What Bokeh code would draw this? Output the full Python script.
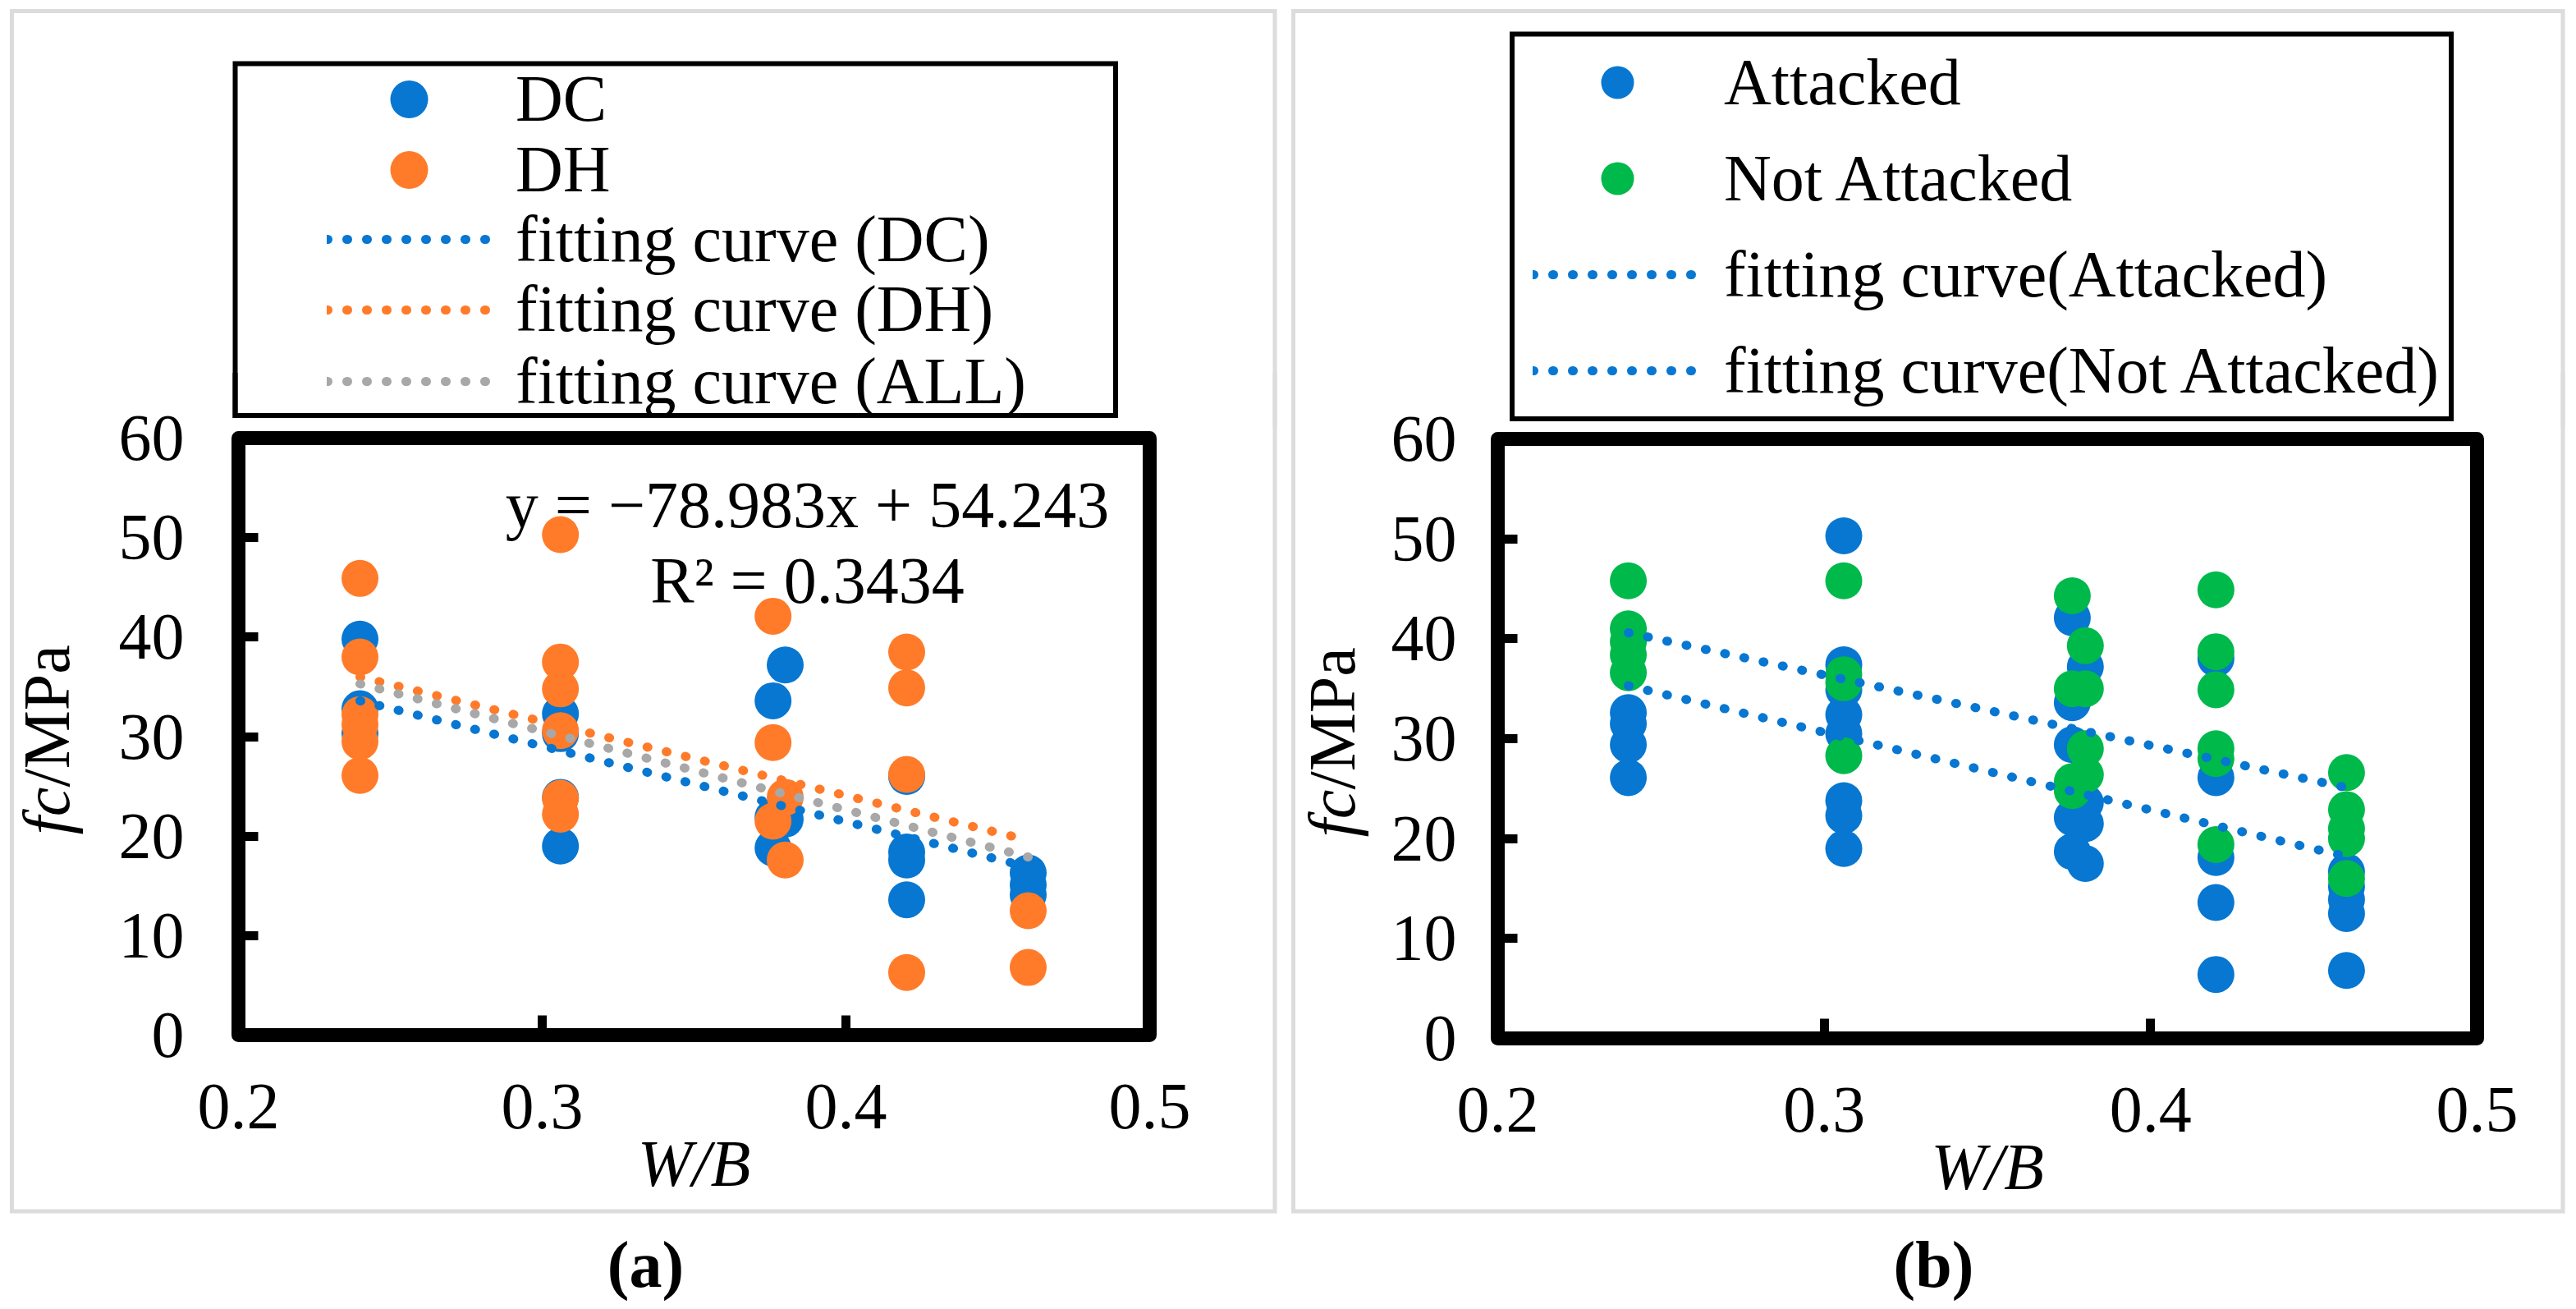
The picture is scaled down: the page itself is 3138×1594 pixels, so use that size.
import math
from urllib.parse import quote
from bokeh.plotting import figure
from bokeh.models import Range1d, FixedTicker, Legend, LegendItem, Label
from bokeh.layouts import row, column
from bokeh.embed import file_html
from bokeh.resources import INLINE

FONT = "Liberation Serif"
BLUE = "#0777D1"
ORANGE = "#FF7B29"
GREEN = "#00B94B"
GRAY = "#A8A8A8"

X_TICKS = [0.2, 0.3, 0.4, 0.5]
Y_TICKS = [0, 10, 20, 30, 40, 50, 60]

# W/B groups
WB = [0.24, 0.306, 0.376, 0.38, 0.42, 0.46]

# ---- panel (a) values (fc, MPa) per W/B group ----
a_dc = [
    [39.8, 32.8, 30.3],
    [32.3, 30.3, 23.9, 19.0],
    [33.6, 21.9, 18.8],
    [37.2, 21.7],
    [26.0, 18.4, 17.6, 13.6],
    [16.3, 15.1, 14.1],
]
a_dh = [
    [45.9, 38.0, 32.2, 31.2, 29.5, 26.1],
    [50.3, 37.5, 34.8, 30.6, 23.8, 22.2],
    [42.1, 29.4, 21.5],
    [23.9, 17.6],
    [38.5, 34.9, 26.2, 6.3],
    [12.5, 6.8],
]
fit_x = [0.24, 0.46]
a_fit_dc = [33.6, 16.9]
a_fit_dh = [36.0, 19.6]
a_fit_all = [35.3, 17.9]
a_eq = "y = \u221278.983x + 54.243"
a_r2 = "R\u00b2 = 0.3434"

# ---- panel (b) values ----
b_att = [
    [32.6, 31.5, 29.4, 26.1],
    [50.3, 37.4, 34.9, 32.4, 30.5, 23.8, 22.3, 19.0],
    [42.1, 33.6, 29.4, 22.1, 18.7],
    [37.2, 23.6, 21.5, 17.5],
    [38.0, 26.1, 18.1, 13.6, 6.4],
    [16.7, 15.2, 13.9, 12.5, 6.8],
]
b_not = [
    [45.8, 41.0, 39.7, 38.4, 36.6],
    [45.8, 36.4, 35.6, 28.3],
    [44.3, 35.0, 25.7, 24.8],
    [39.3, 35.0, 29.0, 26.4],
    [44.9, 38.7, 34.9, 29.0, 28.0, 19.4],
    [26.6, 22.9, 21.0, 20.0, 16.0],
]
b_fit_att = [35.3, 18.2]
b_fit_not = [40.6, 25.1]


def flat(groups):
    xs, ys = [], []
    for x, vals in zip(WB, groups):
        xs += [x] * len(vals)
        ys += vals
    return xs, ys


H = 1594
TOP_H = 520      # legend strip height
MAIN_Y0 = 454    # main plot starts here (overlaps the strip, transparent there)
dot = dict(line_width=11, line_dash="1 23", line_cap="round")


def bg(w, h, y0, rects, color="white"):
    # light panel frame and legend frame, drawn as the element background
    parts = ["<svg xmlns='http://www.w3.org/2000/svg' width='%d' height='%d'>" % (w, h)]
    for x0, ya, x1, yb, c, lw in rects:
        parts.append("<rect x='%s' y='%s' width='%s' height='%s' fill='none' stroke='%s' "
                     "stroke-width='%s'/>" % (x0, ya - y0, x1 - x0, yb - ya, c, lw))
    parts.append("</svg>")
    url = 'url("data:image/svg+xml;charset=utf-8,' + quote("".join(parts)) + '")'
    return {"background-image": url, "background-repeat": "no-repeat",
            "background-size": "%dpx %dpx" % (w, h), "background-color": color}


def top_fig(width, rects):
    p = figure(width=width, height=TOP_H, x_range=Range1d(0, 1), y_range=Range1d(-2, -1),
               output_backend="svg", toolbar_location=None,
               x_axis_location=None, y_axis_location=None,
               min_border=0, min_border_left=0, min_border_right=0,
               min_border_top=0, min_border_bottom=0,
               styles=bg(width, TOP_H, 0, rects))
    p.grid.visible = False
    p.outline_line_color = None
    p.background_fill_alpha = 0
    p.border_fill_alpha = 0
    return p


def main_fig(width, fl, fr, ft, fb, ystand, rects):
    h = H - MAIN_Y0
    st = bg(width, h, MAIN_Y0, rects, color="transparent")
    st["margin-top"] = "%dpx" % (MAIN_Y0 - TOP_H)
    p = figure(width=width, height=h, x_range=Range1d(0.2, 0.5), y_range=Range1d(0, 60),
               output_backend="svg", toolbar_location=None,
               min_border_left=fl, min_border_right=width - fr,
               min_border_top=ft - MAIN_Y0, min_border_bottom=H - fb,
               styles=st)
    p.grid.visible = False
    p.background_fill_color = "white"
    p.border_fill_alpha = 0
    p.outline_line_color = "black"
    p.outline_line_width = 17
    p.outline_line_join = "round"
    for ax in (p.xaxis[0], p.yaxis[0]):
        ax.axis_line_color = None
        ax.major_tick_in = 24
        ax.major_tick_out = 0
        ax.major_tick_line_width = 11
        ax.major_tick_line_color = "black"
        ax.minor_tick_line_color = None
        ax.major_label_text_font = FONT
        ax.major_label_text_font_size = "80px"
        ax.major_label_text_color = "black"
    p.xaxis.ticker = FixedTicker(ticks=X_TICKS)
    p.yaxis.ticker = FixedTicker(ticks=Y_TICKS)
    p.xaxis.major_label_standoff = 60
    p.yaxis.major_label_standoff = ystand
    p.xaxis.axis_label = "W/B"
    p.xaxis.axis_label_text_font = FONT
    p.xaxis.axis_label_text_font_style = "italic"
    p.xaxis.axis_label_text_font_size = "80px"
    p.xaxis.axis_label_text_color = "black"
    p.xaxis.axis_label_standoff = -4
    return p


def ctext(p, side, x, y, s, style="normal", align="left", angle=0.0):
    p.add_layout(Label(x=x, y=y - MAIN_Y0, x_units="canvas", y_units="canvas", text=s,
                       text_font=FONT, text_font_size="80px", text_font_style=style,
                       text_color="black", text_align=align, text_baseline="alphabetic",
                       angle=angle), side)


def ftext(p, x, y, s, align="center"):
    p.add_layout(Label(x=x, y=y, x_units="screen", y_units="screen", text=s,
                       text_font=FONT, text_font_size="80px", text_color="black",
                       text_align=align, text_baseline="alphabetic"))


def legend(p, items, x, y, gw, gh, spacing, standoff):
    lg = Legend(items=[LegendItem(label=l, renderers=[r]) for l, r in items],
                location=(x, y), orientation="vertical",
                glyph_width=gw, glyph_height=gh, label_height=gh,
                label_standoff=standoff, padding=0, margin=0, spacing=spacing,
                border_line_alpha=0, background_fill_alpha=0,
                label_text_font=FONT, label_text_font_size="80px",
                label_text_color="black")
    p.add_layout(lg, "center")


# ================= panel (a) =================
AW, AFL, AFR, AFT, AFB = 1568, 290, 1400, 533, 1260
A_RECTS = [(14.5, 13.5, 1553, 1475, "#DCDCDC", 5), (286.5, 77.5, 1359, 506, "black", 6)]
ta = top_fig(AW, A_RECTS)
pa = main_fig(AW, AFL, AFR, AFT, AFB, 66, A_RECTS)

x1, y1 = flat(a_dc)
x2, y2 = flat(a_dh)
pa.scatter(x1, y1, size=45, fill_color=BLUE, line_color=None)
pa.scatter(x2, y2, size=45, fill_color=ORANGE, line_color=None)
pa.line(fit_x, a_fit_dc, line_color=BLUE, **dot)
pa.line(fit_x, a_fit_dh, line_color=ORANGE, **dot)
pa.line(fit_x, a_fit_all, line_color=GRAY, **dot)

# legend swatches: same series, out of view in the legend strip
k_dc = ta.scatter(x1, y1, size=45, fill_color=BLUE, line_color=None)
k_dh = ta.scatter(x2, y2, size=45, fill_color=ORANGE, line_color=None)
k_fdc = ta.line(fit_x, a_fit_dc, line_color=BLUE, **dot)
k_fdh = ta.line(fit_x, a_fit_dh, line_color=ORANGE, **dot)
k_fall = ta.line(fit_x, a_fit_all, line_color=GRAY, **dot)
for lab, rr, cy, hh in [("DC", k_dc, 120.4, 115), ("DH", k_dh, 206, 115),
                        ("fitting curve (DC)", k_fdc, 291, 96),
                        ("fitting curve (DH)", k_fdh, 376.8, 96),
                        ("fitting curve (ALL)", k_fall, 464, 96)]:
    legend(ta, [(lab, rr)], 398 - AFL, TOP_H - (cy + hh / 2), 200, hh, 0, 30)

ftext(pa, 693, 645.5, a_eq)
ftext(pa, 693, 554, a_r2)
ctext(pa, "left", 56, 1016, "fc", style="italic", angle=math.pi / 2)
ctext(pa, "right", 56, 958, "/MPa", angle=math.pi / 2)
ctext(pa, "below", 786, 1539, "(a)", style="bold", align="center")

# ================= panel (b) =================
OX = 1568
BW, BFL, BFR, BFT, BFB = 1570, 1824 - OX, 3017 - OX, 534, 1264
B_RECTS = [(1575.5 - OX, 13.5, 3122 - OX, 1475, "#DCDCDC", 5),
           (1842 - OX, 41.5, 2986 - OX, 510, "black", 6)]
tb = top_fig(BW, B_RECTS)
pb = main_fig(BW, BFL, BFR, BFT, BFB, 50, B_RECTS)

x3, y3 = flat(b_att)
x4, y4 = flat(b_not)
pb.scatter(x3, y3, size=45, fill_color=BLUE, line_color=None)
pb.scatter(x4, y4, size=45, fill_color=GREEN, line_color=None)
pb.line(fit_x, b_fit_att, line_color=BLUE, **dot)
pb.line(fit_x, b_fit_not, line_color=BLUE, **dot)

k_att = tb.scatter(x3, y3, size=45, fill_color=BLUE, line_color=None)
k_not = tb.scatter(x4, y4, size=45, fill_color=GREEN, line_color=None)
k_fatt = tb.line(fit_x, b_fit_att, line_color=BLUE, **dot)
k_fnot = tb.line(fit_x, b_fit_not, line_color=BLUE, **dot)
legend(tb, [("Attacked", k_att), ("Not Attacked", k_not),
            ("fitting curve(Attacked)", k_fatt), ("fitting curve(Not Attacked)", k_fnot)],
       1867 - OX - BFL, TOP_H - 501, 206, 100, 17, 27)

ctext(pb, "left", 1662 - 40 - OX, 1019, "fc", style="italic", angle=math.pi / 2)
ctext(pb, "right", 1662 - 40 - OX, 961, "/MPa", angle=math.pi / 2)
ctext(pb, "below", 2355 - OX, 1539, "(b)", style="bold", align="center")

layout = row(column(ta, pa), column(tb, pb))
open("out.html", "w").write(file_html(layout, INLINE))
